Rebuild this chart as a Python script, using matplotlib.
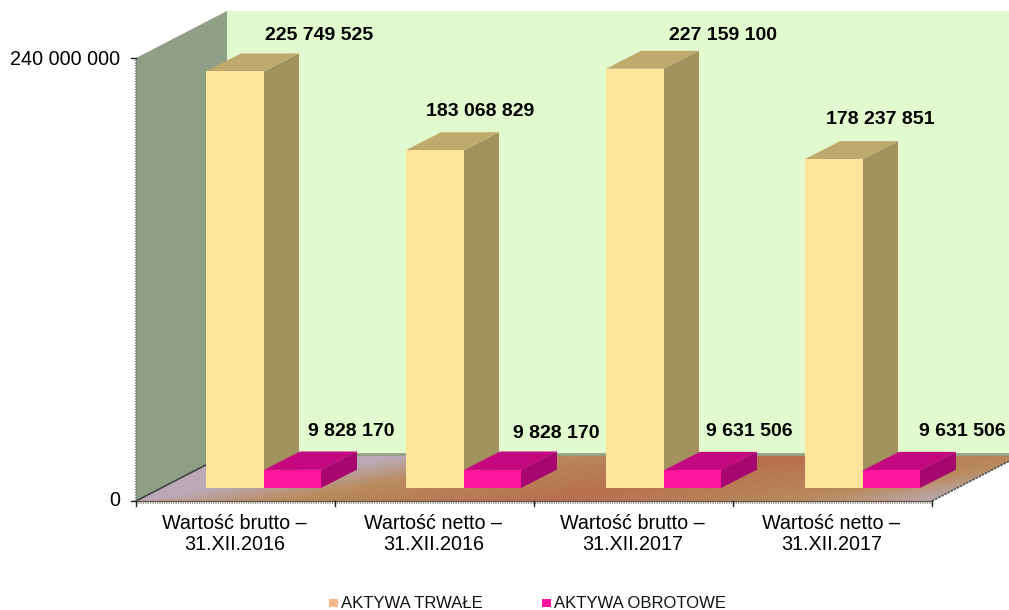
import matplotlib
matplotlib.use("Agg")
import matplotlib.pyplot as plt
from matplotlib.colors import LinearSegmentedColormap
from matplotlib.patches import Polygon
import numpy as np

plt.rcParams["font.family"] = ["Liberation Sans", "DejaVu Sans"]

categories = ["Wartość brutto –\n31.XII.2016", "Wartość netto –\n31.XII.2016",
              "Wartość brutto –\n31.XII.2017", "Wartość netto –\n31.XII.2017"]
aktywa_trwale = [225749525, 183068829, 227159100, 178237851]
aktywa_obrotowe = [9828170, 9828170, 9631506, 9631506]
y_ticks = [0, 240000000]
y_tick_labels = ["0", "240 000 000"]
legend_names = ["AKTYWA TRWAŁE", "AKTYWA OBROTOWE"]


def spaced(v):
    return f"{v:,}".replace(",", " ")


# jednostki: kategoria = 199 px, 240 mln = 443 px
SX = 1 / 199.0
SY = 240000000 / 443.0
X0, X1 = -136 * SX, (1009 - 136) * SX
Y0, Y1 = -109 * SY, 501 * SY

fig = plt.figure(figsize=(10.09, 6.10), dpi=100)
ax = fig.add_axes([0, 0, 1, 1])
ax.axis("off")


def off(x, y, dx=0, dy=0):
    # przesuniecie w pikselach (dy w gore)
    return x + dx * SX, y + dy * SY


def box(x0, w, h, depth, base_dy, front, side, top):
    x1, y1 = off(x0, 0, 0, base_dy)
    x2 = x1 + w * SX
    ddx, ddy = depth * SX, depth * 0.51 * SY
    y2 = y1 + h
    ax.add_patch(Polygon([(x2, y1), (x2 + ddx, y1 + ddy), (x2 + ddx, y2 + ddy), (x2, y2)], fc=side, ec="none", zorder=3))
    ax.add_patch(Polygon([(x1, y2), (x2, y2), (x2 + ddx, y2 + ddy), (x1 + ddx, y2 + ddy)], fc=top, ec="none", zorder=3))
    ax.add_patch(Polygon([(x1, y1), (x2, y1), (x2, y2), (x1, y2)], fc=front, ec="none", zorder=3))


# sciany i podloga
n = len(categories)
dx_wall, dy_wall = 91 * SX, 47 * SY
top = y_ticks[-1]
ax.add_patch(Polygon([(0, 0), (0, top), (dx_wall, top + dy_wall), (dx_wall, dy_wall)], fc="#8F9F85", ec="none", zorder=1))
ax.add_patch(Polygon([(dx_wall, dy_wall), (dx_wall, top + dy_wall), (n + dx_wall, top + dy_wall), (n + dx_wall, dy_wall)],
                     fc="#E2FBCE", ec="none", zorder=1))

floor = Polygon([(0, 0), (n, 0), (n + dx_wall, dy_wall), (dx_wall, dy_wall)], fc="none", ec="none", zorder=2)
ax.add_patch(floor)
# gradient po skosie: ciemny brazowy w srodku, fiolet przy rogach
px = np.arange(136, 1024)
py = np.arange(0, 48)
xx, yy = np.meshgrid(px, py)
grad = np.clip(np.abs(xx - 5.8 * yy - 540) / 400.0, 0, 1)
cmap = LinearSegmentedColormap.from_list("podloga", [(0, "#B8704F"), (0.65, "#B98B5E"), (1, "#BBA9B5")])
im = ax.imshow(grad, extent=(0, n + dx_wall, 0, dy_wall), origin="lower", aspect="auto", cmap=cmap, vmin=0, vmax=1, zorder=2)
im.set_clip_path(floor)
ax.set_xlim(X0, X1)
ax.set_ylim(Y0, Y1)
ax.plot([dx_wall, n + dx_wall], [dy_wall, dy_wall], color="#95A383", lw=2, zorder=2)
ax.plot([0, n], [0, 0], color="#6b5a45", lw=1, zorder=2)
ax.plot([n, n + dx_wall * 0.85], [0, dy_wall * 0.85], color="#555555", lw=1.2, ls=(0, (1.5, 0.6)), zorder=2)
ax.plot([0, dx_wall * 0.77], [0, dy_wall * 0.77], color="#444444", lw=1.2, zorder=2)

# slupki
bar_nudge = [0, 1, 2, 2]
for i in range(n):
    left = i + (70 + bar_nudge[i]) * SX
    box(left, 58, aktywa_trwale[i], 35, 13, "#FEE39A", "#A39260", "#BFA96C")
    box(left + 58 * SX, 57, aktywa_obrotowe[i], 36, 13, "#FF14A0", "#A6086F", "#C4087F")

# osie
ax.plot([0, 0], [0, top], color="#777777", lw=1.6, ls=(0, (0.6, 0.6)), zorder=4)
ax.plot([0, n], [-2 * SY, -2 * SY], color="#999999", lw=1.4, ls=(0, (0.6, 0.6)), zorder=4)
for v, lab, dy in zip(y_ticks, y_tick_labels, [0, -1.5]):
    ax.plot([-5 * SX, 0], [v, v], color="#222222", lw=1, zorder=4)
    ax.text(-16 * SX, v + dy * SY, lab, ha="right", va="center", fontsize=14.2, color="black")
for i in range(n + 1):
    ax.plot([i, i], [0, -5 * SY], color="#222222", lw=1, zorder=4)
for i, lab in enumerate(categories):
    ax.text(i + 0.5 - 1 * SX, -33 * SY, lab, ha="center", va="center", fontsize=14.2, color="black", linespacing=1.15)

# etykiety wartosci
top_pos = [(183, 465), (344, 389), (587, 465), (744, 382)]
low_pos = [(215, 70), (420, 68), (613, 70), (826, 70)]
for i in range(n):
    x, y = off(0, 0, *top_pos[i])
    ax.text(x, y, spaced(aktywa_trwale[i]), ha="center", va="center", fontsize=14, fontweight="bold", zorder=5)
    x, y = off(0, 0, *low_pos[i])
    ax.text(x, y, spaced(aktywa_obrotowe[i]), ha="center", va="center", fontsize=14, fontweight="bold", zorder=5)

# legenda
for name, col, lx, tx in zip(legend_names, ["#F9B98A", "#FF14A0"], [193, 406], [205, 418]):
    x, y = off(0, 0, lx, -102)
    ax.add_patch(Polygon([(x, y - 4 * SY), (x + 9 * SX, y - 4 * SY), (x + 9 * SX, y + 4 * SY), (x, y + 4 * SY)], fc=col, ec="none"))
    x, y = off(0, 0, tx, -102)
    ax.text(x, y, name, ha="left", va="center", fontsize=12, color="#111111")

fig.savefig("out.png", dpi=100)
